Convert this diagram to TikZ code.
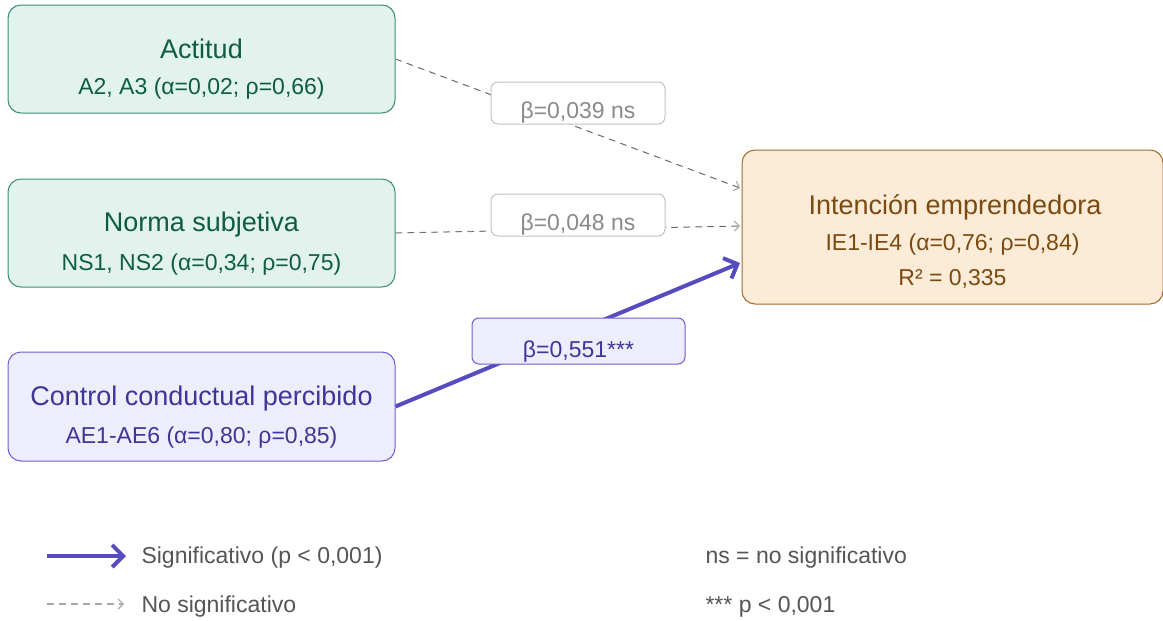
\documentclass[tikz,border=0pt]{standalone}
\usepackage{fontspec}
\setmainfont{Liberation Sans}
\usetikzlibrary{arrows.meta}
\definecolor{gfill}{HTML}{E1F3EC}
\definecolor{gdraw}{HTML}{3A8F72}
\definecolor{gtext}{HTML}{0F5C45}
\definecolor{pfill}{HTML}{EEEDFB}
\definecolor{pdraw}{HTML}{6B5FCF}
\definecolor{ptext}{HTML}{3F3597}
\definecolor{parrow}{HTML}{574BC0}
\definecolor{ofill}{HTML}{FBEBD7}
\definecolor{odraw}{HTML}{A4692B}
\definecolor{otext}{HTML}{7B4A10}
\definecolor{lgdraw}{HTML}{C4C4C0}
\definecolor{lgtext}{HTML}{8A8A86}
\definecolor{legtext}{HTML}{555555}
\definecolor{nsline}{HTML}{A8A8A4}
\tikzset{
  box/.style={draw, rounded corners=13pt, line width=1pt, inner sep=0pt},
  gbox/.style={box, fill=gfill, draw=gdraw, minimum width=387pt, minimum height=108pt},
  pbox/.style={box, fill=pfill, draw=pdraw, minimum width=387pt, minimum height=109pt},
  obox/.style={box, fill=ofill, draw=odraw, minimum width=421pt, minimum height=154pt},
  lbox/.style={draw=lgdraw, fill=white, rounded corners=7pt, line width=1pt, minimum width=174pt, minimum height=42pt, inner sep=0pt},
  sbox/.style={draw=pdraw, fill=pfill, rounded corners=7pt, line width=1pt, minimum width=213pt, minimum height=46pt, inner sep=0pt},
  ttl/.style={font=\fontsize{27}{31}\selectfont, anchor=base},
  sub/.style={font=\fontsize{23}{27}\selectfont, anchor=base},
  lab/.style={font=\fontsize{23}{27}\selectfont, anchor=base},
  leg/.style={font=\fontsize{23}{27}\selectfont, anchor=base west, text=legtext},
  sig/.style={draw=parrow, line width=4pt, -{Straight Barb[length=11pt, width=22pt, line width=4pt]}},
  nsig/.style={draw=nsline, line width=1.1pt, dash pattern=on 7pt off 5pt, -{Straight Barb[length=5pt, width=10pt, line width=1.1pt]}},
  nsdark/.style={draw=black!75, line width=0.4pt, dash pattern=on 6pt off 6pt},
}
\begin{document}
\begin{tikzpicture}[x=1pt,y=-1pt]
\useasboundingbox (0,0) rectangle (1163,621);
% boxes
\node[gbox] (act) at (201.5,59) {};
\node[gbox] (ns) at (201.5,233) {};
\node[pbox] (cc) at (201.5,406.5) {};
\node[obox] (ie) at (952.5,227) {};
\coordinate (ieA) at (740,188);
\coordinate (ieB) at (740,226);
\coordinate (ieC) at (740,263);
% texts
\node[ttl, text=gtext] (actT) at (201.5,58) {Actitud};
\node[sub, text=gtext] (actS) at (201.5,94) {A2, A3 (α=0,02; ρ=0,66)};
\node[ttl, text=gtext] (nsT) at (201.5,231) {Norma subjetiva};
\node[sub, text=gtext] (nsS) at (201.5,270) {NS1, NS2 (α=0,34; ρ=0,75)};
\node[ttl, text=ptext] (ccT) at (201.5,405) {Control conductual percibido};
\node[sub, text=ptext] (ccS) at (201.5,443) {AE1-AE6 (α=0,80; ρ=0,85)};
\node[ttl, text=otext] (ieT) at (955,214) {Intención emprendedora};
\node[sub, text=otext] (ieS) at (952.5,250) {IE1-IE4 (α=0,76; ρ=0,84)};
\node[sub, text=otext] (ieR) at (952.5,285) {R² = 0,335};
% connectors
\draw[nsig] (act.east) -- (ieA);
\draw[nsdark] (act.east) -- (ieA);
\draw[nsig] (ns.east) -- (ieB);
\draw[nsdark] (ns.east) -- (ieB);
\draw[sig] (cc.east) -- (ieC);
% labels
\node[lbox] (l1) at (578,103) {};
\node[lab, text=lgtext] (l1t) at (578,118) {β=0,039 ns};
\node[lbox] (l2) at (578,215) {};
\node[lab, text=lgtext] (l2t) at (578,230) {β=0,048 ns};
\node[sbox] (l3) at (578.5,341) {};
\node[lab, text=ptext] (l3t) at (578.5,357) {β=0,551***};
% legend
\coordinate (s1) at (47,556);
\coordinate (s2) at (126,556);
\draw[sig] (s1) -- (s2);
\node[leg] (sigT) at (138,563) {Significativo (p < 0,001)};
\coordinate (n1) at (47,604);
\coordinate (n2) at (124,604);
\draw[nsig] (n1) -- (n2);
\node[leg] (nsigT) at (138,612) {No significativo};
\node[leg] (nsT2) at (702,563) {ns = no significativo};
\node[leg] (pT) at (702,612) {*** p < 0,001};
\end{tikzpicture}
\end{document}
